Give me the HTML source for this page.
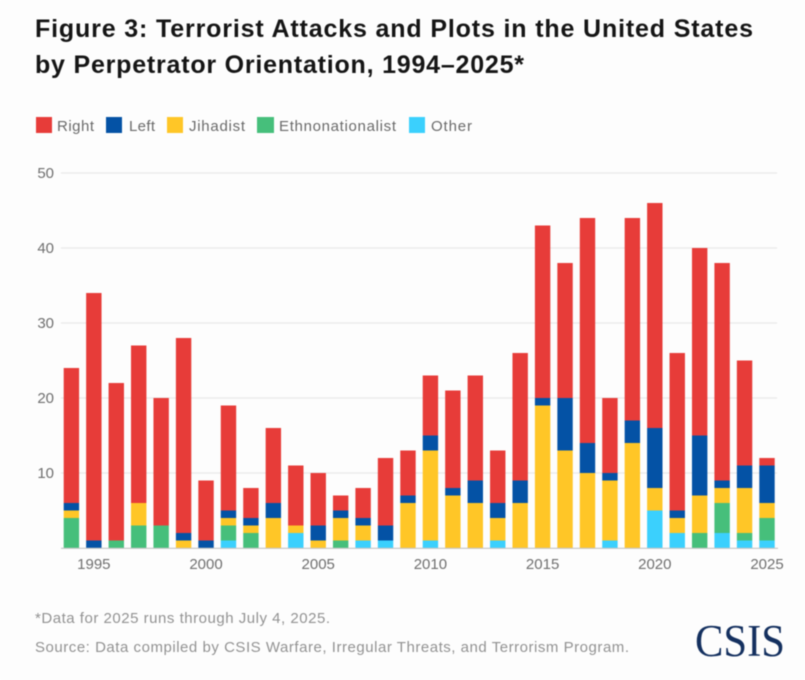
<!DOCTYPE html>
<html lang="en">
<head>
<meta charset="utf-8">
<title>Figure 3: Terrorist Attacks and Plots in the United States</title>
<style>
html,body{margin:0;padding:0;background:#fdfdfd;}
body{width:805px;height:680px;overflow:hidden;}
svg{display:block;filter:blur(0.4px);}
text{font-family:"Liberation Sans",sans-serif;}
</style>
</head>
<body>
<svg id="chart" xmlns="http://www.w3.org/2000/svg" width="805" height="680" viewBox="0 0 805 680">
  <rect x="0" y="0" width="805" height="680" fill="#fdfdfd"/>
  <text x="35" y="37" font-size="25" font-weight="700" fill="#151515" textLength="718" lengthAdjust="spacing">Figure 3: Terrorist Attacks and Plots in the United States</text>
  <text x="35" y="73" font-size="25" font-weight="700" fill="#151515" textLength="489" lengthAdjust="spacing">by Perpetrator Orientation, 1994–2025*</text>
  <g id="legend"></g>
  <g id="grid"></g>
  <g id="bars"></g>
  <g id="axis"></g>
  <text x="35" y="623" font-size="15" fill="#929292" textLength="295" lengthAdjust="spacing">*Data for 2025 runs through July 4, 2025.</text>
  <text x="35" y="652" font-size="15" fill="#929292" textLength="594" lengthAdjust="spacing">Source: Data compiled by CSIS Warfare, Irregular Threats, and Terrorism Program.</text>
  <text x="695" y="656" font-size="45" fill="#14305f" textLength="90" lengthAdjust="spacingAndGlyphs" style="font-family:'Liberation Serif',serif">CSIS</text>
</svg>
<script>
const years = [1994,1995,1996,1997,1998,1999,2000,2001,2002,2003,2004,2005,2006,2007,2008,2009,2010,2011,2012,2013,2014,2015,2016,2017,2018,2019,2020,2021,2022,2023,2024,2025];
const other = [0,0,0,0,0,0,0,1,0,0,2,0,0,1,1,0,1,0,0,1,0,0,0,0,1,0,5,2,0,2,1,1];
const ethnonationalist = [4,0,1,3,3,0,0,2,2,0,0,0,1,0,0,0,0,0,0,0,0,0,0,0,0,0,0,0,2,4,1,3];
const jihadist = [1,0,0,3,0,1,0,1,1,4,1,1,3,2,0,6,12,7,6,3,6,19,13,10,8,14,3,2,5,2,6,2];
const left = [1,1,0,0,0,1,1,1,1,2,0,2,1,1,2,1,2,1,3,2,3,1,7,4,1,3,8,1,8,1,3,5];
const right = [18,33,21,21,17,26,8,14,4,10,8,7,2,4,9,6,8,13,14,7,17,23,18,30,10,27,30,21,25,29,14,1];
const yTicks = [0,10,20,30,40,50];
const xTickYears = [1995,2000,2005,2010,2015,2020,2025];
const seriesNames = ['Other','Ethnonationalist','Jihadist','Left','Right'];
const seriesValues = [other, ethnonationalist, jihadist, left, right];
const seriesColors = ['#3bd0fd','#46bf7b','#ffc627','#0452a5','#e73c39'];
const legendOrder = ['Right','Left','Jihadist','Ethnonationalist','Other'];
const legendColors = ['#e73c39','#0452a5','#ffc627','#46bf7b','#3bd0fd'];

const NS = 'http://www.w3.org/2000/svg';
const xScale = function(year){ return 71.4 + (year - 1994) * (767 - 71.4) / 31; };
const yScale = function(v){ return 548 - v * 7.5; };
const BAR_W = 15.4;

function make(tag, parent){
  const el = document.createElementNS(NS, tag);
  parent.appendChild(el);
  return el;
}

const gridG = document.getElementById('grid');
const axisG = document.getElementById('axis');
const barsG = document.getElementById('bars');
const legendG = document.getElementById('legend');

yTicks.forEach(function(t){
  if (t > 0) {
    const line = make('line', gridG);
    
    
    line.setAttribute('x1', 61);
    line.setAttribute('x2', 777);
    line.setAttribute('y1', yScale(t));
    line.setAttribute('y2', yScale(t));
    line.setAttribute('stroke', '#e8e8e8');
    line.setAttribute('stroke-width', 1.2);
    const label = make('text', axisG);
    
    
    label.setAttribute('x', 54);
    label.setAttribute('y', yScale(t) + 5);
    label.setAttribute('text-anchor', 'end');
    label.setAttribute('font-size', 15);
    label.setAttribute('fill', '#6f6f6f');
    label.textContent = t;
  }
});

years.forEach(function(year, i){
  let cum = 0;
  seriesValues.forEach(function(vals, s){
    const v = vals[i];
    if (v > 0) {
      const r = make('rect', barsG);
      
      
      r.setAttribute('x', xScale(year) - BAR_W / 2);
      r.setAttribute('y', yScale(cum + v));
      r.setAttribute('width', BAR_W);
      r.setAttribute('height', yScale(cum) - yScale(cum + v));
      r.setAttribute('fill', seriesColors[s]);
      const tip = make('title', r);
      tip.textContent = year + ' ' + seriesNames[s] + ': ' + v;
      cum += v;
    }
  });
});

const baseline = make('line', axisG);


baseline.setAttribute('x1', 61);
baseline.setAttribute('x2', 778);
baseline.setAttribute('y1', 548.3);
baseline.setAttribute('y2', 548.3);
baseline.setAttribute('stroke', '#c4c4c4');
baseline.setAttribute('stroke-width', 1.2);

xTickYears.forEach(function(year){
  const label = make('text', axisG);
  
  
  label.setAttribute('x', xScale(year));
  label.setAttribute('y', 569);
  label.setAttribute('text-anchor', 'middle');
  label.setAttribute('font-size', 15);
  label.setAttribute('fill', '#6f6f6f');
  label.textContent = year;
});

const legendSwatchX = [36,106,167,257,409];
const legendTextX = [57,129,189,279,431];
const legendTextW = [37,26,56,117,41];
legendOrder.forEach(function(name, i){
  const sw = make('rect', legendG);
  
  
  sw.setAttribute('x', legendSwatchX[i]);
  sw.setAttribute('y', 117);
  sw.setAttribute('width', i === 3 ? 17 : 16);
  sw.setAttribute('height', 16);
  sw.setAttribute('fill', legendColors[i]);
  const t = make('text', legendG);
  
  
  t.setAttribute('x', legendTextX[i]);
  t.setAttribute('y', 131);
  t.setAttribute('font-size', 15);
  t.setAttribute('fill', '#6a6a6a');
  t.setAttribute('textLength', legendTextW[i]);
  t.setAttribute('lengthAdjust', 'spacing');
  t.textContent = name;
});
</script>
</body>
</html>
